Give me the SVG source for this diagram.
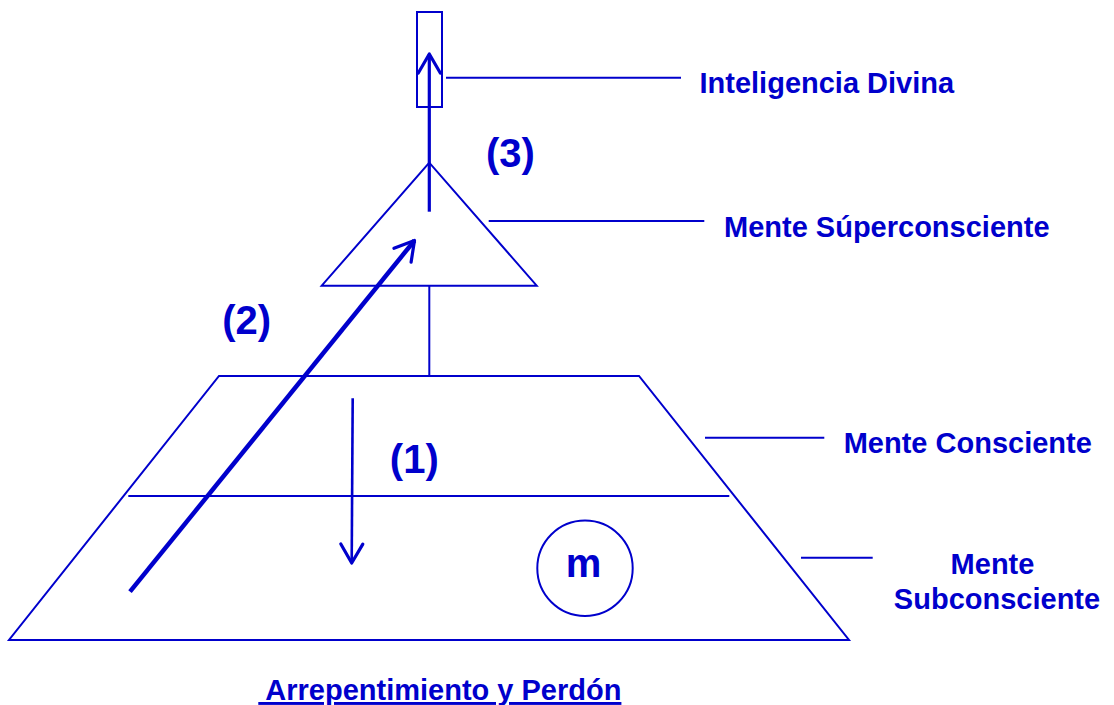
<svg xmlns="http://www.w3.org/2000/svg" width="1114" height="705" viewBox="0 0 1114 705">
<defs>
<style>
.s{fill:none;stroke:#0000CC;stroke-width:2}
.lead{stroke:#0000CC;stroke-width:2}
.arr{fill:none;stroke:#0000CC;stroke-linecap:butt}
.lbl{font-family:"Liberation Sans",Arial,sans-serif;font-weight:bold;font-size:29px;fill:#0000CC}
.num{font-family:"Liberation Sans",Arial,sans-serif;font-weight:bold;font-size:40px;fill:#0000CC;text-anchor:middle}
</style>
<marker id="head" markerUnits="userSpaceOnUse" markerWidth="40" markerHeight="40" refX="0" refY="0" orient="auto" overflow="visible">
<path d="M-19,-11 L0,0 L-19,11" fill="none" stroke="#0000CC" stroke-width="3.2" stroke-linejoin="round" stroke-linecap="round"/>
</marker>
</defs>
<rect width="1114" height="705" fill="#FFFFFF"/>

<g id="divine">
<rect class="s" x="417" y="12" width="25" height="95" stroke-width="1.6"/>
</g>
<g id="superconscious">
<polygon class="s" points="429.3,162.7 321.7,285.7 536.7,285.7"/>
</g>
<g id="mind-levels">
<polygon class="s" points="219,376 639,376 849,640 9,640"/>
<line class="lead" x1="128.3" y1="496" x2="729.3" y2="496"/>
</g>
<g id="m-node">
<circle class="s" cx="585" cy="568.3" r="47.7"/>
<text class="num" x="583.5" y="576.5">m</text>
</g>

<g id="connectors">
<line class="lead" x1="429.3" y1="285.7" x2="429.3" y2="376"/>
<line class="lead" x1="446" y1="77.7" x2="681" y2="77.7"/>
<line class="lead" x1="488.7" y1="221" x2="704.3" y2="221"/>
<line class="lead" x1="705" y1="437.7" x2="824.3" y2="437.7"/>
<line class="lead" x1="801" y1="557.7" x2="872.7" y2="557.7"/>
<line class="arr" x1="429.3" y1="211.7" x2="429.3" y2="54" stroke-width="3.2" marker-end="url(#head)"/>
<line class="arr" x1="352.7" y1="398.3" x2="351.7" y2="563" stroke-width="2.6" marker-end="url(#head)"/>
<line class="arr" x1="130" y1="591.7" x2="414.5" y2="240.5" stroke-width="4.5" marker-end="url(#head)"/>
</g>

<g id="labels">
<text class="lbl" x="699.5" y="92.7">Inteligencia Divina</text>
<text class="lbl" x="724" y="236.7">Mente Súperconsciente</text>
<text class="lbl" x="843.7" y="453.3">Mente Consciente</text>
<text class="lbl" x="992.5" y="574" text-anchor="middle">Mente</text>
<text class="lbl" x="997" y="609.3" text-anchor="middle">Subconsciente</text>
<text class="num" x="510.5" y="166.5">(3)</text>
<text class="num" x="246.7" y="334">(2)</text>
<text class="num" x="414.3" y="473.3">(1)</text>
<text class="lbl" x="258.3" y="700" xml:space="preserve" text-decoration="underline"> Arrepentimiento y Perdón</text>
</g>
</svg>
